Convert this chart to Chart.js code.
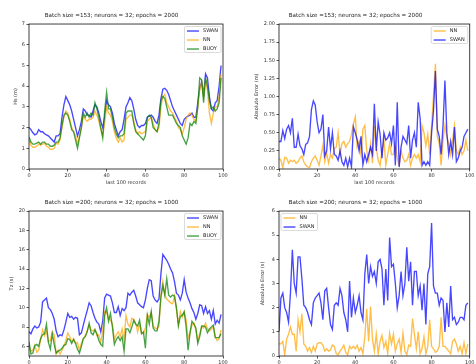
<!DOCTYPE html>
<html lang="en">
<head>
    <meta charset="UTF-8">
    <title>SWAN / NN / BUOY comparison</title>
    <style>
        body {
            margin: 0;
            width: 476px;
            height: 364px;
            overflow: hidden;
            background: #fff;
            position: relative;
        }
        .panel {
            position: absolute;
            width: 238px;
            height: 190px;
        }
    </style>
</head>
<body>
    <div class="panel" style="left:0;top:0"><canvas id="hsChart" width="238" height="190"></canvas></div>
    <div class="panel" style="left:238px;top:0"><canvas id="hsErrChart" width="238" height="190"></canvas></div>
    <div class="panel" style="left:0;top:187px"><canvas id="tzChart" width="238" height="190"></canvas></div>
    <div class="panel" style="left:238px;top:187px"><canvas id="tzErrChart" width="238" height="190"></canvas></div>

    <script src="https://cdn.jsdelivr.net/npm/chart.js"></script>
    <script>
        // ---- data ----
        const hsSwan = [
            2.0, 1.9, 1.75, 1.65, 1.7, 1.9, 1.8, 1.8, 1.7, 1.65,
            1.6, 1.5, 1.4, 1.3, 1.6, 1.6, 1.7, 2.5, 3.1, 3.5,
            3.3, 3.1, 2.8, 2.4, 2.0, 1.6, 1.9, 2.3, 2.9, 2.8,
            2.6, 2.6, 2.5, 2.8, 3.1, 3.0, 2.7, 2.3, 2.0, 2.5,
            3.3, 3.1, 3.0, 2.7, 2.2, 1.9, 1.6, 1.8, 1.9, 2.4,
            3.0, 3.2, 3.45, 3.3, 2.9, 2.4, 2.1, 2.0, 2.1, 2.1,
            2.2, 2.5, 2.55, 2.6, 2.5, 2.3, 2.2, 2.6, 3.4, 3.85,
            3.9, 3.8, 3.6, 3.3, 3.0, 2.8, 2.6, 2.4, 2.2, 2.1,
            2.4, 2.5, 2.55, 2.6, 2.7, 2.5, 2.5, 3.2, 3.9, 4.2,
            3.6, 4.6, 4.4, 3.5, 2.9, 2.8, 3.2, 3.3, 4.0, 5.0
        ];
        const hsNN = [
            1.4, 1.15, 1.05, 1.05, 1.1, 1.2, 1.15, 1.2, 1.25, 1.1,
            1.05, 0.95, 0.95, 1.0, 1.25, 1.2, 1.4, 2.0, 2.5, 2.8,
            2.7, 2.4, 2.0, 1.8, 1.6, 1.2, 1.6, 2.0, 2.6, 2.4,
            2.3, 2.4, 2.4, 2.5, 2.8, 2.6, 2.3, 1.9, 1.6, 2.2,
            3.0, 2.7, 2.6, 2.3, 1.8, 1.5, 1.3, 1.5, 1.3, 1.4,
            2.4, 2.5, 2.6, 2.6, 2.3, 1.9, 1.7, 1.8, 1.7, 1.75,
            1.8, 2.3, 2.4, 2.5, 2.2, 1.9, 1.8, 2.0, 3.0, 3.5,
            3.6, 3.2, 3.0, 2.8, 2.7, 2.5, 2.3, 2.0, 1.9, 1.7,
            2.0, 2.4, 2.6, 2.7, 2.6, 2.4, 2.3, 3.0, 3.8, 4.2,
            3.5, 4.3, 3.8, 2.7, 2.2, 2.7, 3.0, 3.0, 3.5, 4.6
        ];
        const hsBuoy = [
            1.55, 1.3, 1.2, 1.2, 1.25, 1.3, 1.2, 1.3, 1.3, 1.2,
            1.2, 1.1, 1.1, 1.15, 1.3, 1.3, 1.5, 2.1, 2.6, 2.7,
            2.6, 2.3, 1.9, 1.8, 1.4, 1.0, 1.5, 2.0, 2.7, 2.5,
            2.7, 2.5, 2.7, 2.6, 3.2, 2.9, 2.5, 2.0, 1.5, 2.8,
            3.7, 2.9, 2.9, 2.5, 2.0, 1.7, 1.5, 1.6, 1.6, 1.7,
            2.7, 2.8, 2.8, 2.8, 2.2, 1.8, 1.7, 1.6, 1.5, 1.4,
            1.6, 2.5, 2.6, 2.5, 2.0, 1.9, 1.8, 2.2, 3.3, 3.5,
            3.4, 3.0, 2.6, 2.6, 2.6, 2.4, 2.2, 2.1, 2.0, 1.6,
            1.4, 1.2, 1.5, 2.2, 2.1, 2.3, 2.2, 3.0, 4.4, 4.3,
            3.2, 4.4, 4.0, 3.3, 2.9, 3.0, 2.8, 2.9, 3.2, 4.4
        ];
        const hsErrNN = [
            0.15, 0.12, 0.02, 0.16, 0.15, 0.08, 0.12, 0.1, 0.12, 0.08,
            0.1, 0.15, 0.18, 0.1, 0.05, 0.03, 0.02, 0.1, 0.15, 0.18,
            0.12, 0.05, 0.18, 0.32, 0.1, 0.22, 0.08, 0.2, 0.15, 0.28,
            0.3, 0.5, 0.2, 0.35, 0.38, 0.3, 0.35, 0.38, 0.48, 0.62,
            0.72, 0.3, 0.38, 0.2, 0.55, 0.6, 0.25, 0.12, 0.35, 0.08,
            0.6, 0.3, 0.12, 0.05, 0.25, 0.4, 0.05, 0.2, 0.35, 0.2,
            0.2, 0.35, 0.15, 0.05, 0.25, 0.15, 0.1, 0.12, 0.2, 0.05,
            0.15, 0.2, 0.15, 0.2, 0.1, 0.6, 0.5, 0.32, 0.48, 0.2,
            0.6, 1.0, 1.45, 0.45, 0.35, 0.05, 0.4, 0.6, 0.45, 0.35,
            0.2, 0.4, 0.6, 0.25, 0.2, 0.3, 0.2, 0.25, 0.4, 0.25
        ];
        const hsErrSwan = [
            0.38, 0.38, 0.53, 0.42, 0.55, 0.6, 0.5, 0.7, 0.3, 0.3,
            0.48, 0.32, 0.28, 0.2, 0.34, 0.36, 0.45, 0.82, 0.94, 0.88,
            0.65, 0.5, 0.55, 0.75, 0.18, 0.25, 0.58, 0.28, 0.5, 0.2,
            0.18, 0.12, 0.25, 0.1, 0.05, 0.15, 0.03, 0.15, 0.03, 0.58,
            0.5, 0.4, 0.25, 0.45, 0.06, 0.2, 0.1, 0.2, 0.3, 0.2,
            0.9, 0.25, 0.65, 0.48, 0.15, 0.5, 0.4, 0.43, 0.5, 0.35,
            0.6, 0.05, 0.92, 0.03, 0.3, 0.45, 0.4, 0.35, 0.6, 0.15,
            0.4, 0.5, 0.3, 0.92, 0.7, 0.05, 0.1, 0.05, 0.1, 0.05,
            0.5, 0.8, 1.35, 0.55, 0.45, 0.2, 0.6, 1.22, 0.5, 0.2,
            0.38, 0.2, 0.58, 0.1, 0.15, 0.25, 0.3, 0.45, 0.5, 0.55
        ];
        const tzSwan = [
            7.5, 7.3, 7.8, 8.1, 7.9, 8.0, 8.5, 10.6, 10.8, 11.0,
            10.0, 9.8, 9.4, 8.8, 7.6, 7.0, 7.2, 7.1, 7.7, 8.5,
            9.4, 9.0, 9.1, 8.8, 9.0, 8.9, 7.2, 7.4, 8.2, 9.0,
            9.7, 10.5, 10.2, 9.5, 8.9, 8.5, 8.3, 7.5, 8.6, 11.0,
            11.4, 11.3, 11.2, 10.5, 9.5, 9.5, 10.1, 9.2, 9.9, 9.7,
            10.0, 11.5, 11.3, 11.6, 11.8, 11.2, 10.5, 10.3, 10.1, 10.0,
            10.8, 12.0, 12.9, 12.8, 11.2, 10.8, 10.6, 10.9, 13.5, 15.5,
            15.2, 14.9, 14.5, 14.0, 13.6, 12.7, 11.5, 11.3, 10.8, 11.5,
            12.9, 11.6, 11.0, 10.5, 9.9, 9.5, 8.8, 9.4, 10.3, 10.2,
            9.4, 10.1, 9.4, 9.7, 8.8, 9.7, 8.3, 8.7, 8.4, 9.3
        ];
        const tzNN = [
            6.0, 5.5, 5.6, 6.1, 5.4, 5.6, 6.7, 7.7, 7.1, 7.6,
            6.5, 6.6, 7.5, 7.2, 5.2, 5.6, 5.2, 5.6, 6.0, 6.6,
            7.4, 7.0, 6.5, 6.8, 6.3, 6.4, 5.6, 6.3, 6.8, 7.1,
            7.6, 8.2, 7.7, 7.6, 7.8, 7.1, 7.2, 6.4, 7.6, 9.6,
            9.5, 8.9, 8.7, 8.3, 6.7, 7.2, 7.5, 7.0, 7.8, 6.7,
            9.2, 8.3, 8.0, 8.9, 8.8, 8.4, 7.5, 8.3, 7.4, 7.3,
            7.9, 9.3, 9.0, 9.5, 8.1, 7.9, 7.8, 8.1, 11.3, 12.7,
            11.3, 10.9, 10.7, 10.5, 10.4, 11.2, 9.8, 8.3, 9.6, 9.0,
            9.5, 8.7, 6.8, 7.4, 8.2, 8.4, 7.7, 6.6, 7.3, 8.0,
            7.9, 8.4, 7.8, 7.6, 7.8, 8.0, 7.0, 6.6, 6.8, 7.7
        ];
        const tzBuoy = [
            6.5, 5.2, 5.3, 6.1, 6.2, 6.0, 6.8, 7.2, 7.3, 8.3,
            6.4, 5.7, 7.3, 6.2, 5.3, 5.5, 5.6, 5.8, 6.1, 6.2,
            6.8, 6.7, 6.3, 6.7, 6.3, 5.7, 5.3, 6.0, 6.8, 7.0,
            7.5, 8.4, 7.4, 7.2, 7.7, 7.3, 6.6, 6.2, 6.0, 9.2,
            10.0, 8.6, 9.4, 8.0, 6.2, 6.7, 7.0, 6.6, 7.0, 5.5,
            7.8, 7.8, 7.4, 8.0, 8.7, 8.3, 8.1, 8.7, 7.3, 7.5,
            5.8, 9.2, 8.3, 9.6, 7.9, 7.6, 7.6, 8.6, 11.1, 12.3,
            11.3, 13.0, 11.3, 11.1, 11.3, 11.2, 10.0, 8.1, 9.1, 9.2,
            9.6, 8.0, 5.6, 7.4, 8.6, 8.3, 7.9, 6.3, 7.0, 8.1,
            8.1, 8.0, 7.4, 7.8, 8.0, 8.2, 6.9, 6.9, 6.9, 7.3
        ];
        const tzErrNN = [
            0.5, 0.5, 0.6, 0.05, 0.7, 0.9, 1.2, 0.9, 0.9, 0.2,
            1.5, 1.0, 1.75, 0.5, 0.4, 0.2, 0.35, 0.15, 0.4, 0.2,
            0.5, 0.55, 0.55, 0.45, 0.2, 0.3, 0.2, 0.25, 0.45, 0.4,
            0.1, 0.05, 0.2, 0.3, 0.45, 0.15, 0.05, 0.4, 0.3, 0.4,
            0.3, 0.45, 0.2, 0.35, 0.1, 0.8, 1.95, 0.6, 2.05, 0.7,
            0.2, 0.9, 0.1, 0.6, 0.85, 0.35, 0.6, 0.1, 0.95, 0.5,
            0.9, 0.2, 0.5, 0.7, 0.15, 0.95, 0.2, 0.05, 0.45, 0.4,
            1.55, 0.9, 0.3, 1.0, 0.1, 0.3, 0.8, 0.1, 0.4, 1.5,
            0.4, 0.3, 0.15, 0.2, 0.4, 1.6, 0.4, 0.4, 0.3, 0.2,
            0.1, 0.6, 0.7, 0.5, 0.2, 0.4, 0.1, 0.55, 0.1, 0.5
        ];
        const tzErrSwan = [
            1.0, 2.4, 2.6, 2.0, 1.8, 1.4, 2.6, 4.4, 3.0, 2.6,
            4.1, 4.1, 3.2, 2.1, 2.0, 1.8, 1.5, 1.3, 2.2, 2.4,
            2.5, 2.6, 2.2, 1.5, 2.7, 2.8, 2.0, 1.3, 1.1, 2.1,
            2.2, 2.1, 2.8, 2.5, 1.8, 1.5, 1.0, 3.1, 1.6, 2.4,
            1.8, 2.1, 2.5, 1.8, 1.5, 3.4, 4.2, 3.0, 3.7, 3.3,
            3.5, 3.0, 3.9, 4.0, 3.6, 2.1, 3.6, 2.3, 4.9, 3.7,
            3.8, 3.0, 2.0, 2.5, 3.5, 2.5, 3.0, 4.5, 3.1, 3.9,
            2.1, 3.5, 3.5, 2.5, 2.9, 1.9, 3.0, 1.3, 3.4, 3.7,
            5.5, 2.9, 2.6, 2.6, 2.1, 2.4, 2.3, 1.0, 2.2, 1.2,
            2.9, 1.5, 1.6, 1.3, 1.4, 1.6, 1.6, 1.5, 2.1, 2.2
        ];
        const records = hsSwan.map((v, i) => i);

        const xTicks = [0, 20, 40, 60, 80, 100];
        const hsTicks = [0, 1, 2, 3, 4, 5, 6, 7];
        const hsErrTicks = [0, 0.25, 0.5, 0.75, 1.0, 1.25, 1.5, 1.75, 2.0];
        const tzTicks = [6, 8, 10, 12, 14, 16, 18, 20];
        const tzErrTicks = [0, 1, 2, 3, 4, 5, 6];

        const titleHs = 'Batch size =153; neurons = 32; epochs = 2000';
        const titleTz = 'Batch size =200; neurons = 32; epochs = 1000';

        const BLUE = 'rgba(0, 0, 255, 0.72)';
        const ORANGE = 'rgba(255, 165, 0, 0.72)';
        const GREEN = 'rgba(0, 128, 0, 0.72)';
        const FONT = 'DejaVu Sans';

        // matplotlib style box around the plot area
        const frame = {
            id: 'frame',
            afterDraw(chart) {
                const a = chart.chartArea, ctx = chart.ctx;
                ctx.save();
                ctx.strokeStyle = '#111';
                ctx.lineWidth = 0.8;
                ctx.strokeRect(a.left, a.top, a.right - a.left, a.bottom - a.top);
                ctx.restore();
            }
        };

        // legend drawn inside the axes, like plt.legend()
        const innerLegend = {
            id: 'innerLegend',
            afterDatasetsDraw(chart, args, opts) {
                const ctx = chart.ctx, a = chart.chartArea;
                const sets = chart.data.datasets;
                ctx.save();
                ctx.font = '5px "' + FONT + '"';
                const textW = Math.max(...sets.map(d => ctx.measureText(d.label).width));
                const w = 2.5 + 12 + 4 + textW + 3;
                const h = 9 * sets.length - 1;
                const x = opts.corner === 'left' ? a.left + 2 : a.right - 2 - w;
                const y = a.top + 2.5;
                ctx.fillStyle = 'rgba(255,255,255,0.85)';
                ctx.strokeStyle = '#d0d0d0';
                ctx.lineWidth = 0.8;
                ctx.beginPath();
                ctx.roundRect(x, y, w, h, 1.5);
                ctx.fill();
                ctx.stroke();
                sets.forEach((d, i) => {
                    const cy = y + 4.5 + i * 9;
                    ctx.strokeStyle = d.borderColor;
                    ctx.lineWidth = 1.4;
                    ctx.beginPath();
                    ctx.moveTo(x + 2.5, cy);
                    ctx.lineTo(x + 14.5, cy);
                    ctx.stroke();
                    ctx.fillStyle = '#222';
                    ctx.textBaseline = 'middle';
                    ctx.fillText(d.label, x + 18.5, cy);
                });
                ctx.restore();
            }
        };

        function series(label, values, color, order) {
            return {
                label: label,
                data: values,
                borderColor: color,
                backgroundColor: color,
                borderWidth: 1.35,
                pointRadius: 0,
                tension: 0,
                fill: false,
                order: order
            };
        }

        function makeChart(id, sets, cfg) {
            new Chart(document.getElementById(id), {
                type: 'line',
                data: { labels: records, datasets: sets },
                plugins: [frame, innerLegend],
                options: {
                    responsive: false,
                    animation: false,
                    events: [],
                    layout: { padding: { left: 0, right: cfg.right, top: 0, bottom: 0 } },
                    plugins: {
                        legend: { display: false },
                        tooltip: { enabled: false },
                        innerLegend: { corner: cfg.corner },
                        title: {
                            display: true,
                            text: cfg.title,
                            color: '#222',
                            font: { family: FONT, size: 5.6, weight: 'normal' },
                            padding: { top: 12.6, bottom: 4.7 }
                        }
                    },
                    scales: {
                        x: {
                            type: 'linear',
                            min: 0,
                            max: 100,
                            afterBuildTicks: s => { s.ticks = xTicks.map(v => ({ value: v })); },
                            afterFit: s => { s.height = 21; },
                            border: { display: false },
                            grid: { drawOnChartArea: false, drawTicks: true, tickLength: 2.5, color: '#111', lineWidth: 0.7 },
                            ticks: { color: '#333', font: { family: FONT, size: 5 }, padding: 1.5, maxRotation: 0 },
                            title: {
                                display: true,
                                text: 'last 100 records',
                                color: '#333',
                                font: { family: FONT, size: 5 },
                                padding: { top: 0, bottom: 4.5 }
                            }
                        },
                        y: {
                            min: cfg.yMin,
                            max: cfg.yMax,
                            afterBuildTicks: s => { s.ticks = cfg.yTicks.map(v => ({ value: v })); },
                            afterFit: s => { s.width = cfg.left; },
                            border: { display: false },
                            grid: { drawOnChartArea: false, drawTicks: true, tickLength: 2.5, color: '#111', lineWidth: 0.7 },
                            ticks: {
                                color: '#333',
                                font: { family: FONT, size: 5 },
                                padding: 1.5,
                                callback: v => cfg.decimals ? v.toFixed(cfg.decimals) : String(v)
                            },
                            title: {
                                display: true,
                                text: cfg.yTitle,
                                color: '#333',
                                font: { family: FONT, size: 5 },
                                padding: { top: cfg.yTitlePad, bottom: 0 }
                            }
                        }
                    }
                }
            });
        }

        makeChart('hsChart', [
            series('SWAN', hsSwan, BLUE, 2),
            series('NN', hsNN, ORANGE, 1),
            series('BUOY', hsBuoy, GREEN, 0)
        ], { title: titleHs, yTitle: 'Hs (m)', yMin: 0, yMax: 7, yTicks: hsTicks, left: 29, right: 15, yTitlePad: 13, corner: 'right' });

        makeChart('hsErrChart', [
            series('NN', hsErrNN, ORANGE, 1),
            series('SWAN', hsErrSwan, BLUE, 0)
        ], { title: titleHs, yTitle: 'Absolute Error (m)', yMin: 0, yMax: 2, yTicks: hsErrTicks, decimals: 2, left: 41, right: 3, yTitlePad: 16, corner: 'right' });

        makeChart('tzChart', [
            series('SWAN', tzSwan, BLUE, 2),
            series('NN', tzNN, ORANGE, 1),
            series('BUOY', tzBuoy, GREEN, 0)
        ], { title: titleTz, yTitle: 'Tz (s)', yMin: 5, yMax: 20, yTicks: tzTicks, left: 29, right: 15, yTitlePad: 9, corner: 'right' });

        makeChart('tzErrChart', [
            series('NN', tzErrNN, ORANGE, 1),
            series('SWAN', tzErrSwan, BLUE, 0)
        ], { title: titleTz, yTitle: 'Absolute Error (s)', yMin: 0, yMax: 6, yTicks: tzErrTicks, left: 41, right: 3, yTitlePad: 22, corner: 'left' });
    </script>
</body>
</html>
